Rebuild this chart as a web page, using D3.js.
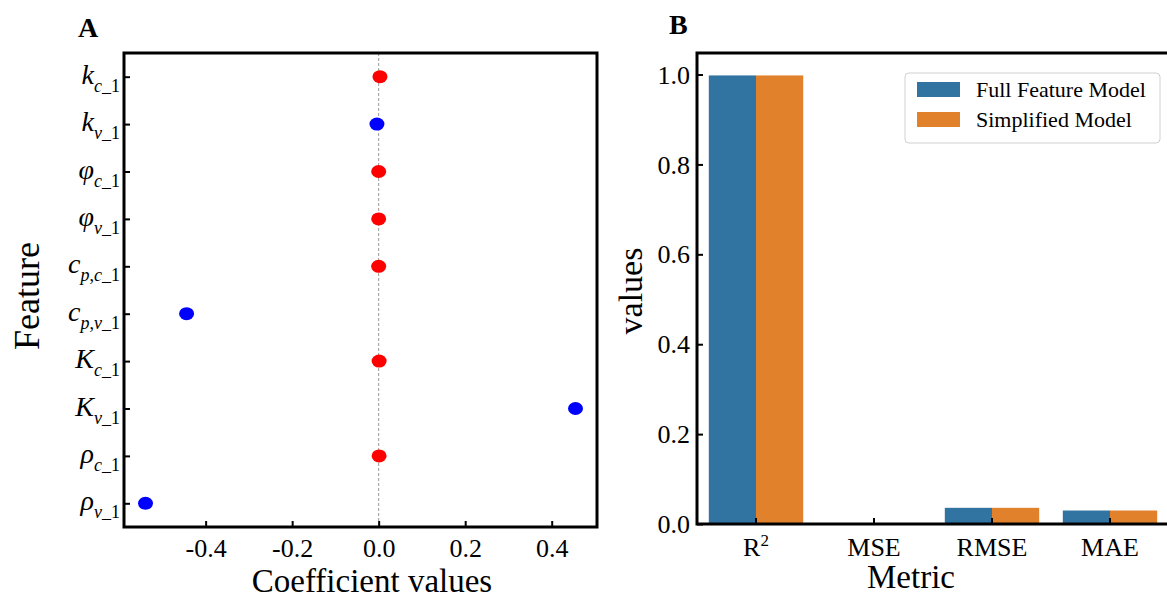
<!DOCTYPE html>
<html><head><meta charset="utf-8">
<script src="https://cdn.jsdelivr.net/npm/d3@7"></script>
<style>
body{margin:0;background:#fff}
svg{font-family:"Liberation Serif","Times New Roman",serif}
</style>
</head><body>
<svg id="chart" width="1167" height="598"></svg>
<script>
// ---- Panel A data ----
const featureBase = ["k","k","φ","φ","c","c","K","K","ρ","ρ"];
const featureSub  = ["c_1","v_1","c_1","v_1","p,c_1","p,v_1","c_1","v_1","c_1","v_1"];
const coefficients = [0.003,-0.004,0.0,0.0,0.0,-0.444,0.001,0.455,0.001,-0.539];
const coefGroup = ["red","blue","red","red","red","blue","red","blue","red","blue"];
const coefTicks = [-0.4,-0.2,0.0,0.2,0.4];

// ---- Panel B data ----
const metrics = ["R2","MSE","RMSE","MAE"];
const metricBase = ["R","MSE","RMSE","MAE"];
const metricSup  = ["2","","",""];
const seriesNames = ["Full Feature Model","Simplified Model"];
const fullModel = [0.998,0.0012,0.036,0.030];
const simplifiedModel = [0.998,0.0012,0.036,0.030];
const valueTicks = [0.0,0.2,0.4,0.6,0.8,1.0];

const svg = d3.select("#chart");
const FS_TICK = 26;

// ================= Panel A =================
const A = {l:124, r:597, t:53, b:527};
const cmin = d3.min(coefficients), cmax = d3.max(coefficients);
const cm = (cmax - cmin) * 0.05;
const xA = d3.scaleLinear().domain([cmin - cm, cmax + cm]).range([A.l, A.r]);
const yA = d3.scalePoint().domain(d3.range(featureBase.length)).range([A.t, A.b]).padding(0.5);
const groupColor = d3.scaleOrdinal().domain(["red","blue"]).range(["#ff0000","#0000ff"]);

const gA = svg.append("g");
gA.append("line")
  .attr("x1", xA(0)).attr("x2", xA(0)).attr("y1", A.t).attr("y2", A.b)
  .attr("stroke", "#999").attr("stroke-width", 1).attr("stroke-dasharray", "3,2");

gA.selectAll("ellipse.pt").data(coefficients).join("ellipse")
  .attr("class","pt")
  .attr("cx", d => xA(d))
  .attr("cy", (d,i) => yA(i))
  .attr("rx", 7.5).attr("ry", 6.5)
  .attr("fill", (d,i) => groupColor(coefGroup[i]));

const axA = gA.append("g").attr("transform", `translate(0,${A.b})`)
  .call(d3.axisBottom(xA).tickValues(coefTicks).tickSizeInner(-6).tickSizeOuter(0)
        .tickFormat(d => d.toFixed(1)));
axA.select(".domain").remove();
axA.selectAll(".tick line").attr("stroke","#000").attr("stroke-width",2);
axA.selectAll(".tick text").attr("y", 30).attr("dy", 0)
  .attr("font-size", FS_TICK).attr("fill","#000").attr("font-family","Liberation Serif");

const ayA = gA.append("g").attr("transform", `translate(${A.l},0)`)
  .call(d3.axisLeft(yA).tickSizeInner(-6).tickSizeOuter(0).tickFormat(""));
ayA.select(".domain").remove();
ayA.selectAll(".tick line").attr("stroke","#000").attr("stroke-width",2);

featureBase.forEach((b, i) => {
  const t = gA.append("text")
    .attr("x", A.l - 4).attr("y", yA(i) + 7)
    .attr("text-anchor", "end").attr("fill", "#000");
  t.append("tspan").attr("font-size", 28).attr("font-style","italic").text(b);
  let first = true;
  for (const ch of featureSub[i]) {
    const sp = t.append("tspan").attr("font-size", 18).text(ch);
    if (/[a-z]/.test(ch)) sp.attr("font-style","italic");
    if (first) { sp.attr("dy", 8); first = false; }
  }
});

gA.append("rect").attr("x", A.l).attr("y", A.t).attr("width", A.r - A.l).attr("height", A.b - A.t)
  .attr("fill","none").attr("stroke","#000").attr("stroke-width",3);

gA.append("text").attr("x", 372).attr("y", 592).attr("text-anchor","middle")
  .attr("font-size", 33).text("Coefficient values");
gA.append("text").attr("transform","translate(39,296) rotate(-90)").attr("text-anchor","middle")
  .attr("font-size", 36).text("Feature");
gA.append("text").attr("x", 78).attr("y", 37).attr("font-size", 28).attr("font-weight","bold").text("A");

// ================= Panel B =================
const B = {l:697, r:1169, t:53, b:524};
const xB = d3.scaleBand().domain(metrics).range([B.l, B.r]).paddingInner(0).paddingOuter(0);
const xS = d3.scaleBand().domain(seriesNames).range([0, xB.bandwidth()*0.8]);
const maxV = d3.max([...fullModel, ...simplifiedModel]);
const yB = d3.scaleLinear().domain([0, maxV * 1.05]).range([B.b, B.t]);
const colors = d3.scaleOrdinal().domain(seriesNames).range(["#3274a1","#e1812c"]);

const gB = svg.append("g");
const seriesData = [fullModel, simplifiedModel];
seriesNames.forEach((s, si) => {
  gB.selectAll(`rect.s${si}`).data(seriesData[si]).join("rect")
    .attr("class", `s${si}`)
    .attr("x", (d,i) => xB(metrics[i]) + xB.bandwidth()*0.1 + xS(s))
    .attr("width", xS.bandwidth())
    .attr("y", d => yB(d))
    .attr("height", d => yB(0) - yB(d))
    .attr("fill", colors(s));
});

const axB = gB.append("g").attr("transform", `translate(0,${B.b})`)
  .call(d3.axisBottom(xB).tickSizeInner(-6).tickSizeOuter(0).tickFormat(""));
axB.select(".domain").remove();
axB.selectAll(".tick line").attr("stroke","#000").attr("stroke-width",2);
metrics.forEach((m, i) => {
  const t = gB.append("text").attr("x", xB(m) + xB.bandwidth()/2).attr("y", 556)
    .attr("text-anchor","middle").attr("font-size", FS_TICK);
  t.append("tspan").text(metricBase[i]);
  if (metricSup[i]) t.append("tspan").attr("font-size", 17).attr("dy", -10).text(metricSup[i]);
});

const ayB = gB.append("g").attr("transform", `translate(${B.l},0)`)
  .call(d3.axisLeft(yB).tickValues(valueTicks).tickSizeInner(-6).tickSizeOuter(0)
        .tickFormat(d => d.toFixed(1)));
ayB.select(".domain").remove();
ayB.selectAll(".tick line").attr("stroke","#000").attr("stroke-width",2);
ayB.selectAll(".tick text").attr("x", -7).attr("dy", "0.33em")
  .attr("font-size", FS_TICK).attr("fill","#000").attr("font-family","Liberation Serif");

gB.append("path")
  .attr("d", `M${B.r},${B.t}H${B.l}V${B.b}H${B.r}`)
  .attr("fill","none").attr("stroke","#000").attr("stroke-width",3);

const lg = gB.append("g");
lg.append("rect").attr("x", 905).attr("y", 73).attr("width", 255).attr("height", 70)
  .attr("rx", 4).attr("fill","#fff").attr("stroke","#d0d0d0").attr("stroke-width",1);
seriesNames.forEach((s, i) => {
  const cy = 90 + i*30;
  lg.append("rect").attr("x", 917).attr("y", cy - 8).attr("width", 43).attr("height", 15).attr("fill", colors(s));
  lg.append("text").attr("x", 976).attr("y", cy + 7).attr("font-size", 22).text(s);
});

gB.append("text").attr("x", 911).attr("y", 588).attr("text-anchor","middle")
  .attr("font-size", 33).text("Metric");
gB.append("text").attr("transform","translate(642,291) rotate(-90)").attr("text-anchor","middle")
  .attr("font-size", 34).text("values");
gB.append("text").attr("x", 669).attr("y", 34).attr("font-size", 28).attr("font-weight","bold").text("B");
</script>
</body></html>
